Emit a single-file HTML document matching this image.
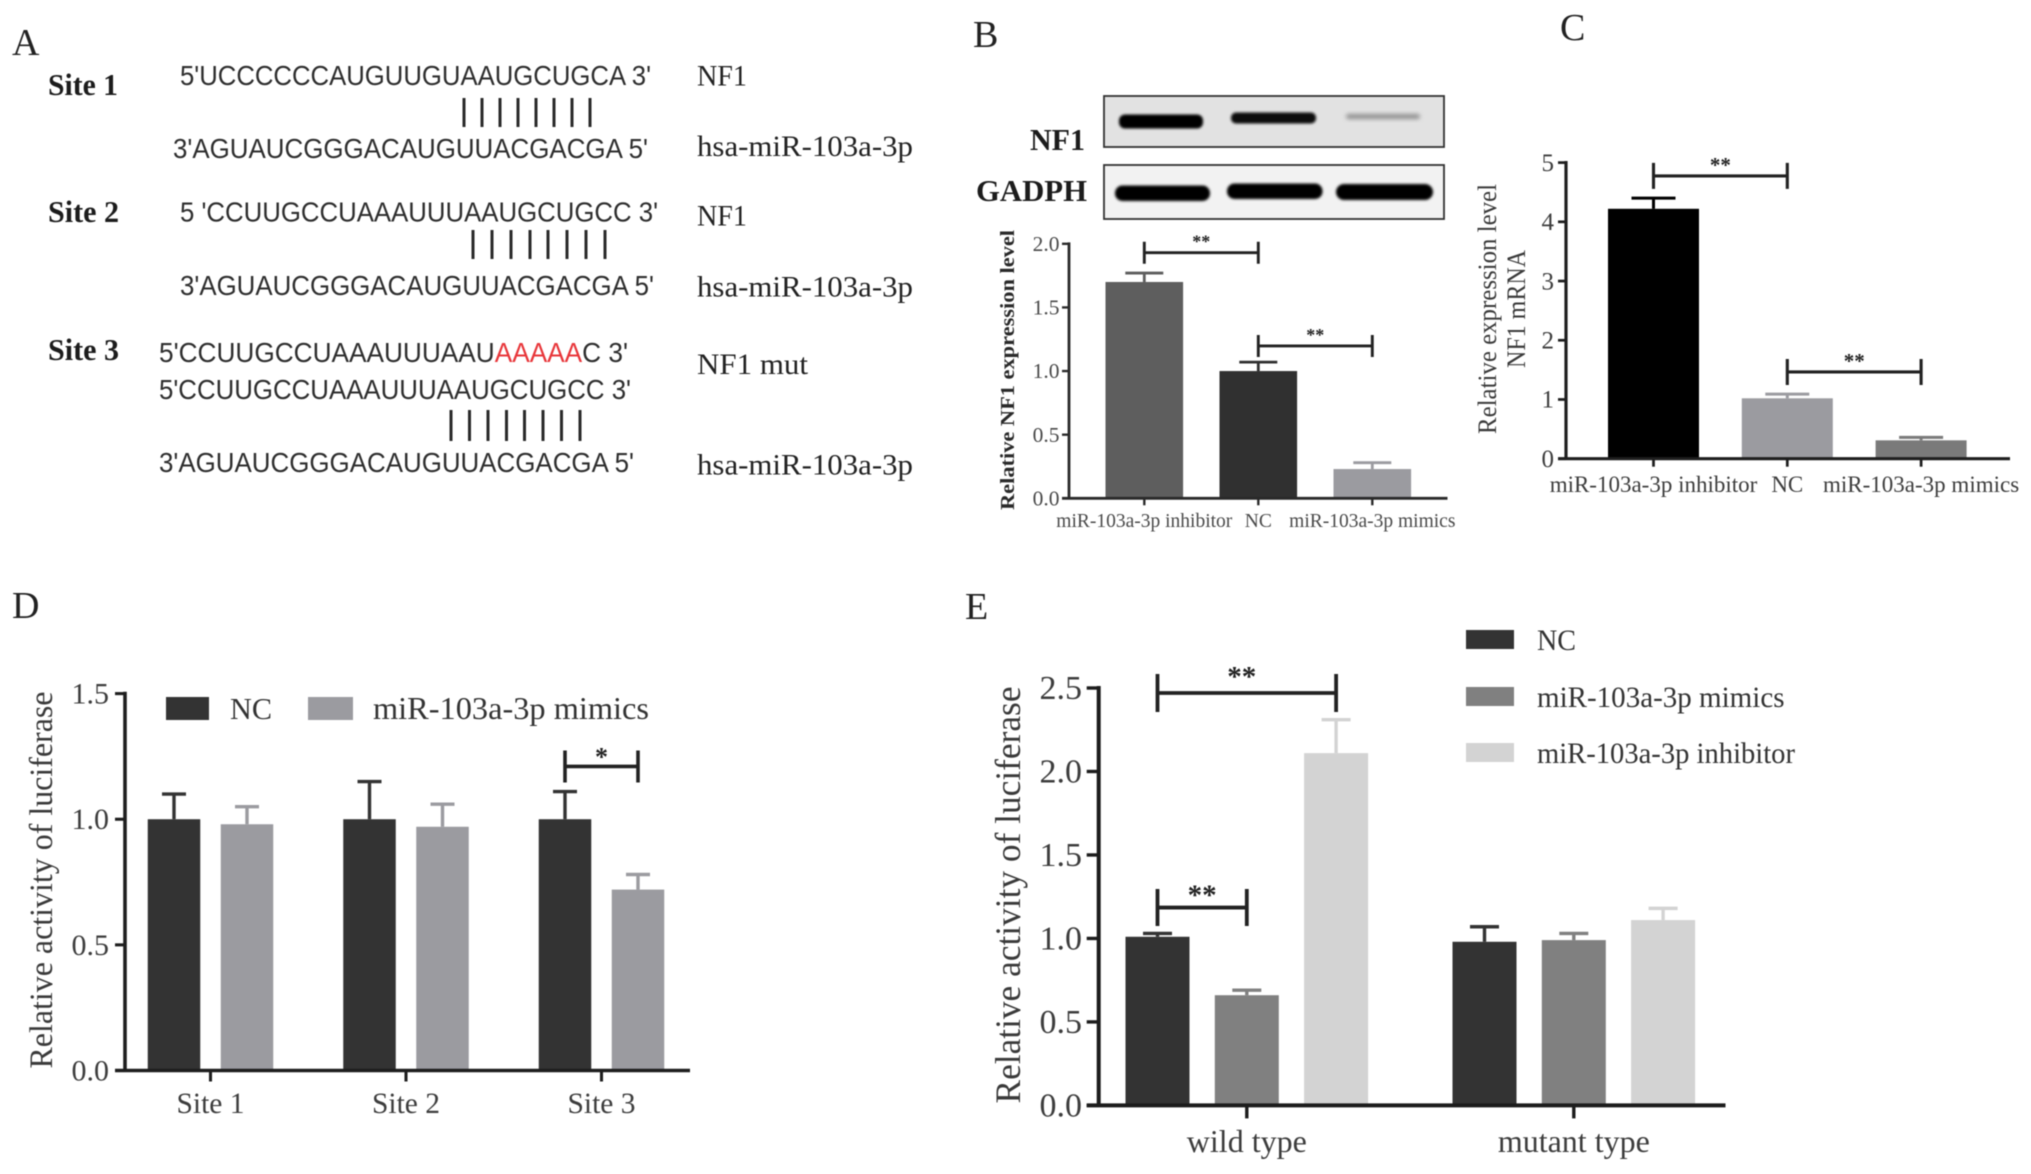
<!DOCTYPE html>
<html lang="en">
<head>
<meta charset="utf-8">
<title>NF1 and miR-103a-3p figure</title>
<style>
html,body{margin:0;padding:0;background:#fff;}
body{width:2031px;height:1174px;overflow:hidden;}
svg{display:block;filter:blur(0.65px);}
text{font-family:"Liberation Serif",serif;fill:#2b2b2b;}
.seq{font-family:"Liberation Sans",sans-serif;font-size:28px;fill:#2e2e2e;}
.lab{font-size:30px;fill:#222;}
.site{font-size:31px;font-weight:bold;fill:#1c1c1c;}
.panel{font-size:38px;fill:#222;}
.pair{stroke:#2a2a2a;stroke-width:3;}
</style>
</head>
<body>
<svg id="figure" xmlns="http://www.w3.org/2000/svg" width="2031" height="1174" viewBox="0 0 2031 1174">
<defs>
<filter id="bandBlur" x="-10%" y="-60%" width="120%" height="220%"><feGaussianBlur stdDeviation="1.4"/></filter>
<filter id="faintBlur" x="-10%" y="-80%" width="120%" height="260%"><feGaussianBlur stdDeviation="2"/></filter>
</defs>
<rect width="2031" height="1174" fill="#fff"/>

<!-- Panel letters -->
<text class="panel" x="12" y="55">A</text>
<text class="panel" x="973" y="47">B</text>
<text class="panel" x="1560" y="40">C</text>
<text class="panel" x="12" y="618">D</text>
<text class="panel" x="965" y="619">E</text>

<!-- Panel A -->
<g>
<text class="site" x="48" y="95" textLength="70" lengthAdjust="spacingAndGlyphs">Site 1</text>
<text class="seq" x="180" y="85" textLength="471" lengthAdjust="spacingAndGlyphs">5'UCCCCCCAUGUUGUAAUGCUGCA 3'</text>
<path class="pair" d="M464 98V127M482 98V127M500 98V127M518 98V127M536 98V127M554 98V127M572 98V127M590 98V127"/>
<text class="seq" x="173" y="158" textLength="475" lengthAdjust="spacingAndGlyphs">3'AGUAUCGGGACAUGUUACGACGA 5'</text>
<text class="lab" x="697" y="85.5" textLength="50" lengthAdjust="spacingAndGlyphs">NF1</text>
<text class="lab" x="697" y="156" textLength="216" lengthAdjust="spacingAndGlyphs">hsa-miR-103a-3p</text>

<text class="site" x="48" y="222" textLength="71" lengthAdjust="spacingAndGlyphs">Site 2</text>
<text class="seq" x="180" y="221.5" textLength="478" lengthAdjust="spacingAndGlyphs">5 'CCUUGCCUAAAUUUAAUGCUGCC 3'</text>
<path class="pair" d="M473 230V259M492 230V259M511 230V259M530 230V259M548 230V259M567 230V259M586 230V259M605 230V259"/>
<text class="seq" x="180" y="295" textLength="474" lengthAdjust="spacingAndGlyphs">3'AGUAUCGGGACAUGUUACGACGA 5'</text>
<text class="lab" x="697" y="225.5" textLength="50" lengthAdjust="spacingAndGlyphs">NF1</text>
<text class="lab" x="697" y="296.5" textLength="216" lengthAdjust="spacingAndGlyphs">hsa-miR-103a-3p</text>

<text class="site" x="48" y="360" textLength="71" lengthAdjust="spacingAndGlyphs">Site 3</text>
<text class="seq" x="159" y="362" textLength="469" lengthAdjust="spacingAndGlyphs">5'CCUUGCCUAAAUUUAAU<tspan fill="#e8363a">AAAAA</tspan>C 3'</text>
<text class="seq" x="159" y="399" textLength="472" lengthAdjust="spacingAndGlyphs">5'CCUUGCCUAAAUUUAAUGCUGCC 3'</text>
<path class="pair" d="M451 410V441M469.5 410V441M488 410V441M506.5 410V441M524.5 410V441M543 410V441M561.5 410V441M580 410V441"/>
<text class="seq" x="159" y="472" textLength="475" lengthAdjust="spacingAndGlyphs">3'AGUAUCGGGACAUGUUACGACGA 5'</text>
<text class="lab" x="697" y="374" textLength="111" lengthAdjust="spacingAndGlyphs">NF1 mut</text>
<text class="lab" x="697" y="474.5" textLength="216" lengthAdjust="spacingAndGlyphs">hsa-miR-103a-3p</text>
</g>

<!-- Panel B western blot -->
<g>
<text x="1030" y="150" font-size="31" font-weight="bold" textLength="55" lengthAdjust="spacingAndGlyphs" style="fill:#1c1c1c">NF1</text>
<text x="976" y="201" font-size="31" font-weight="bold" textLength="111" lengthAdjust="spacingAndGlyphs" style="fill:#1c1c1c">GADPH</text>
<rect x="1104" y="96" width="340" height="51" fill="#e2e2e2" stroke="#333" stroke-width="1.8"/>
<rect x="1119" y="114.5" width="84" height="14" rx="6" fill="#050505" filter="url(#bandBlur)"/>
<rect x="1231" y="112.5" width="85" height="11" rx="5" fill="#0a0a0a" filter="url(#bandBlur)"/>
<rect x="1346" y="114" width="74" height="5" rx="2.5" fill="#8f8f8f" filter="url(#faintBlur)"/>
<rect x="1104" y="165" width="340" height="54" fill="#f2f2f2" stroke="#333" stroke-width="1.8"/>
<rect x="1115" y="185.5" width="95" height="15.5" rx="7.5" fill="#050505" filter="url(#bandBlur)"/>
<rect x="1227" y="183.5" width="95.5" height="15.5" rx="7.5" fill="#050505" filter="url(#bandBlur)"/>
<rect x="1336" y="184" width="97" height="16" rx="8" fill="#050505" filter="url(#bandBlur)"/>
</g>

<!-- Axis titles -->
<text transform="rotate(-90 1014 370)" x="1014" y="370" text-anchor="middle" font-size="19.5" font-weight="bold" textLength="280" lengthAdjust="spacingAndGlyphs" style="fill:#2a2a2a">Relative NF1 expression level</text>
<text transform="rotate(-90 1496 309)" x="1496" y="309" text-anchor="middle" font-size="26" textLength="250" lengthAdjust="spacingAndGlyphs" style="fill:#3a3a3a">Relative expression level</text>
<text transform="rotate(-90 1525 309)" x="1525" y="309" text-anchor="middle" font-size="26" textLength="118" lengthAdjust="spacingAndGlyphs" style="fill:#3a3a3a">NF1 mRNA</text>
<text transform="rotate(-90 52 880)" x="52" y="880" text-anchor="middle" font-size="33" textLength="377" lengthAdjust="spacingAndGlyphs" style="fill:#3a3a3a">Relative activity of luciferase</text>
<text transform="rotate(-90 1020 895)" x="1020" y="895" text-anchor="middle" font-size="36" textLength="417" lengthAdjust="spacingAndGlyphs" style="fill:#3a3a3a">Relative activity of luciferase</text>

<!-- Legends -->
<g>
<rect x="166" y="697" width="43" height="23" fill="#333"/>
<text x="230" y="719" font-size="31" textLength="42" lengthAdjust="spacingAndGlyphs" style="fill:#333">NC</text>
<rect x="308" y="697" width="45" height="23" fill="#9b9ba0"/>
<text x="373" y="719" font-size="32" textLength="276" lengthAdjust="spacingAndGlyphs" style="fill:#333">miR-103a-3p mimics</text>
</g>
<g>
<rect x="1466" y="630" width="48" height="19" fill="#333"/>
<text x="1537" y="650" font-size="30" textLength="39" lengthAdjust="spacingAndGlyphs" style="fill:#333">NC</text>
<rect x="1466" y="687" width="48" height="19" fill="#808080"/>
<text x="1537" y="707" font-size="30" textLength="247.5" lengthAdjust="spacingAndGlyphs" style="fill:#333">miR-103a-3p mimics</text>
<rect x="1466" y="743" width="48" height="19" fill="#d3d3d3"/>
<text x="1537" y="763" font-size="30" textLength="258" lengthAdjust="spacingAndGlyphs" style="fill:#333">miR-103a-3p inhibitor</text>
</g>

<g id="charts"></g>
</svg>

<script>
// Panel B data
const bCategories = ['miR-103a-3p inhibitor', 'NC', 'miR-103a-3p mimics'];
const bValues = [1.70, 1.00, 0.23];
const bErrorTops = [1.77, 1.07, 0.28];
const bTicks = [0, 0.5, 1.0, 1.5, 2.0];
const bBracketLevels = [1.93, 1.197];

// Panel C data
const cCategories = ['miR-103a-3p inhibitor', 'NC', 'miR-103a-3p mimics'];
const cValues = [4.22, 1.02, 0.31];
const cErrorTops = [4.40, 1.09, 0.36];
const cTicks = [0, 1, 2, 3, 4, 5];
const cBracketLevels = [4.775, 1.465];

// Panel D data
const dCategories = ['Site 1', 'Site 2', 'Site 3'];
const dSeriesNC = [1.00, 1.00, 1.00];
const dSeriesMimics = [0.98, 0.97, 0.72];
const dErrorTopsNC = [1.10, 1.15, 1.11];
const dErrorTopsMimics = [1.05, 1.06, 0.78];
const dTicks = [0, 0.5, 1.0, 1.5];
const dBracketLevels = [1.21];

// Panel E data
const eCategories = ['wild type', 'mutant type'];
const eSeriesNC = [1.01, 0.98];
const eSeriesMimics = [0.66, 0.99];
const eSeriesInhibitor = [2.11, 1.11];
const eErrorTopsNC = [1.03, 1.07];
const eErrorTopsMimics = [0.69, 1.03];
const eErrorTopsInhibitor = [2.31, 1.18];
const eTicks = [0, 0.5, 1.0, 1.5, 2.0, 2.5];
const eBracketLevels = [2.47, 1.185];

const SVGNS = 'http://www.w3.org/2000/svg';
const chartsRoot = document.getElementById('charts');

function make(tag, attrs, parent, text) {
  const el = document.createElementNS(SVGNS, tag);
  for (const k in attrs) el.setAttribute(k, attrs[k]);
  if (text !== undefined) el.textContent = text;
  parent.appendChild(el);
  return el;
}

function linearY(y0, yMaxPx, maxVal) {
  return function (v) { return y0 - (v / maxVal) * (y0 - yMaxPx); };
}

function drawBar(g, cx, width, y, value, errTop, color, capW, errW, name) {
  const whisker = make('line', {x1: cx, x2: cx, y1: y(value), y2: y(errTop), stroke: color, 'stroke-width': errW}, g);
  
  
  const cap = make('line', {x1: cx - capW / 2, x2: cx + capW / 2, y1: y(errTop), y2: y(errTop), stroke: color, 'stroke-width': errW}, g);
  
  
  const bar = make('rect', {x: cx - width / 2, y: y(value), width: width, height: y(0) - y(value), fill: color}, g);
  
  
}

function drawAxes(g, o, y) {
  const axisColor = o.axisColor;
  const yAxis = make('line', {x1: o.axisX, x2: o.axisX, y1: y(o.ticks[o.ticks.length - 1]) - o.axisW / 2, y2: y(0), stroke: axisColor, 'stroke-width': o.axisW}, g);
  
  
  const xAxis = make('line', {x1: o.axisX - o.tickLen, x2: o.axisEnd, y1: y(0), y2: y(0), stroke: axisColor, 'stroke-width': o.axisW}, g);
  
  
  o.ticks.forEach(function (t) {
    const tick = make('line', {x1: o.axisX - o.tickLen, x2: o.axisX, y1: y(t), y2: y(t), stroke: axisColor, 'stroke-width': o.axisW * 0.85}, g);
    
    
    const label = make('text', {x: o.tickLabelRight, y: y(t) + o.tickFont * 0.33, 'text-anchor': 'end', 'font-size': o.tickFont, style: 'fill:' + o.tickColor}, g, t.toFixed(o.tickDigits));
    
    
  });
  o.categories.forEach(function (c, i) {
    const cx = o.groupX(i);
    const tick = make('line', {x1: cx, x2: cx, y1: y(0), y2: y(0) + o.xTickLen, stroke: axisColor, 'stroke-width': o.axisW * 0.85}, g);
    
    
    const label = make('text', {x: cx, y: o.xLabelY, 'text-anchor': 'middle', 'font-size': o.xFont, style: 'fill:' + o.tickColor}, g, c);
    
    
  });
}

function drawBracket(g, x1, x2, yPx, halfTick, weight, starText, starFont, starOffset, name) {
  const path = make('path', {
    d: 'M' + x1 + ' ' + (yPx - halfTick) + 'V' + (yPx + halfTick) + 'M' + x2 + ' ' + (yPx - halfTick) + 'V' + (yPx + halfTick) + 'M' + x1 + ' ' + yPx + 'H' + x2,
    stroke: '#222', 'stroke-width': weight, fill: 'none'
  }, g);
  
  
  const star = make('text', {x: (x1 + x2) / 2 + starOffset.dx, y: yPx + starOffset.dy, 'text-anchor': 'middle', 'font-size': starFont, 'font-weight': 'bold', style: 'fill:#222'}, g, starText);
  
  
}

/* Panel B */
(function () {
  const g = make('g', {}, chartsRoot);
  
  
  const y = linearY(498.3, 243.8, 2.0);
  const x = function (i) { return 1144.3 + i * 114; };
  const colors = ['#5e5e5e', '#303030', '#9b9ba0'];
  bValues.forEach(function (v, i) {
    drawBar(g, x(i), 77.6, y, v, bErrorTops[i], colors[i], 38, 2.8, 'panel-b-bar-' + i);
  });
  drawAxes(g, {id: 'panel-b', axisX: 1069, axisEnd: 1447.5, axisW: 2.8, axisColor: '#2a2a2a', tickLen: 7, xTickLen: 7, ticks: bTicks, tickDigits: 1, tickLabelRight: 1059.5, tickFont: 21.5, tickColor: '#4a4a4a', categories: bCategories, groupX: x, xLabelY: 527, xFont: 19.5}, y);
  drawBracket(g, x(0), x(1), y(bBracketLevels[0]), 11, 2.9, '**', 18, {dx: 0, dy: -5}, 'panel-b-bracket-inhibitor-nc');
  drawBracket(g, x(1), x(2), y(bBracketLevels[1]), 11, 2.9, '**', 18, {dx: 0, dy: -5}, 'panel-b-bracket-nc-mimics');
})();

/* Panel C */
(function () {
  const g = make('g', {}, chartsRoot);
  
  
  const y = linearY(458.7, 162.6, 5);
  const x = function (i) { return 1653.5 + i * 133.8; };
  const colors = ['#000000', '#9b9ba0', '#7a7a7a'];
  cValues.forEach(function (v, i) {
    drawBar(g, x(i), 91, y, v, cErrorTops[i], colors[i], 44, 3, 'panel-c-bar-' + i);
  });
  drawAxes(g, {id: 'panel-c', axisX: 1566, axisEnd: 2010, axisW: 3.2, axisColor: '#1e1e1e', tickLen: 8, xTickLen: 8, ticks: cTicks, tickDigits: 0, tickLabelRight: 1554, tickFont: 25, tickColor: '#3d3d3d', categories: cCategories, groupX: x, xLabelY: 492, xFont: 23}, y);
  drawBracket(g, x(0), x(1), y(cBracketLevels[0]), 13, 3.1, '**', 21, {dx: 0, dy: -4}, 'panel-c-bracket-inhibitor-nc');
  drawBracket(g, x(1), x(2), y(cBracketLevels[1]), 13, 3.1, '**', 21, {dx: 0, dy: -4}, 'panel-c-bracket-nc-mimics');
})();

/* Panel D */
(function () {
  const g = make('g', {}, chartsRoot);
  
  
  const y = linearY(1070.5, 693.6, 1.5);
  const groupX = function (i) { return 210.5 + i * 195.5; };
  const barX = function (c, s) { return groupX(c) + (s === 0 ? -36.5 : 36.5); };
  const series = [dSeriesNC, dSeriesMimics];
  const errors = [dErrorTopsNC, dErrorTopsMimics];
  const colors = ['#333333', '#9b9ba0'];
  series.forEach(function (vals, s) {
    vals.forEach(function (v, c) {
      drawBar(g, barX(c, s), 52.5, y, v, errors[s][c], colors[s], 24, 3.4, 'panel-d-bar-' + s + '-' + c);
    });
  });
  drawAxes(g, {id: 'panel-d', axisX: 125, axisEnd: 690, axisW: 3.6, axisColor: '#1e1e1e', tickLen: 10, xTickLen: 11, ticks: dTicks, tickDigits: 1, tickLabelRight: 109, tickFont: 30, tickColor: '#3d3d3d', categories: dCategories, groupX: groupX, xLabelY: 1113, xFont: 29.5}, y);
  drawBracket(g, barX(2, 0), barX(2, 1), y(dBracketLevels[0]), 16, 3.6, '*', 26, {dx: 0, dy: -1}, 'panel-d-bracket-site-3');
})();

/* Panel E */
(function () {
  const g = make('g', {}, chartsRoot);
  
  
  const y = linearY(1105.4, 688, 2.5);
  const groupX = function (i) { return 1246.8 + i * 327; };
  const barX = function (c, s) { return groupX(c) + (s - 1) * 89.3; };
  const series = [eSeriesNC, eSeriesMimics, eSeriesInhibitor];
  const errors = [eErrorTopsNC, eErrorTopsMimics, eErrorTopsInhibitor];
  const colors = ['#333333', '#808080', '#d3d3d3'];
  series.forEach(function (vals, s) {
    vals.forEach(function (v, c) {
      drawBar(g, barX(c, s), 64, y, v, errors[s][c], colors[s], 29, 3.4, 'panel-e-bar-' + s + '-' + c);
    });
  });
  drawAxes(g, {id: 'panel-e', axisX: 1098.7, axisEnd: 1725.5, axisW: 4, axisColor: '#1c1c1c', tickLen: 12, xTickLen: 13, ticks: eTicks, tickDigits: 1, tickLabelRight: 1082, tickFont: 34, tickColor: '#3d3d3d', categories: eCategories, groupX: groupX, xLabelY: 1152, xFont: 32}, y);
  drawBracket(g, barX(0, 0), barX(0, 2), y(eBracketLevels[0]), 19, 3.8, '**', 29, {dx: -5, dy: -7}, 'panel-e-bracket-nc-inhibitor');
  drawBracket(g, barX(0, 0), barX(0, 1), y(eBracketLevels[1]), 18.5, 3.8, '**', 29, {dx: 0, dy: -3}, 'panel-e-bracket-nc-mimics');
})();
</script>
</body>
</html>
